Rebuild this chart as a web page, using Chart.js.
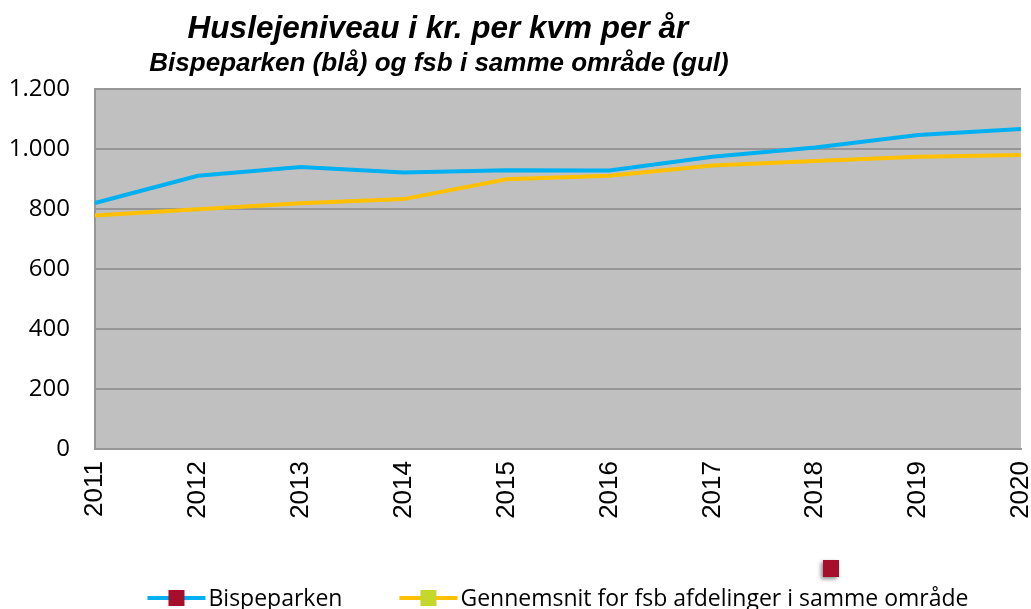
<!DOCTYPE html>
<html>
<head>
<meta charset="utf-8">
<script src="https://cdn.jsdelivr.net/npm/chart.js@4.4.0/dist/chart.umd.min.js"></script>
<style>
  html, body { margin: 0; padding: 0; background: #fff; }
</style>
</head>
<body>
<canvas id="chart" width="1031" height="609"></canvas>
<script>
// data
const years = ['2011', '2012', '2013', '2014', '2015', '2016', '2017', '2018', '2019', '2020'];
const bispeparken = [820, 911, 940, 922, 929, 928, 974, 1005, 1047, 1067];
const fsbOmraade = [778, 799, 819, 833, 899, 911, 945, 960, 974, 980];
const seriesNames = ['Bispeparken', 'Gennemsnit for fsb afdelinger i samme område'];
const lineColors = ['#00b0f0', '#ffc000'];
const markerColors = ['#a50f2c', '#c3d72c'];
const titleText = 'Huslejeniveau i kr. per kvm per år';
const subtitleText = 'Bispeparken (blå) og fsb i samme område (gul)';

// grey plot background
const plotBackground = {
  id: 'plotBackground',
  beforeDraw(chart) {
    const { ctx, chartArea } = chart;
    ctx.save();
    ctx.fillStyle = '#c0c0c0';
    ctx.fillRect(chartArea.left, chartArea.top, chartArea.right - chartArea.left, chartArea.bottom - chartArea.top);
    ctx.restore();
  }
};

// titles are a bit left of the plot centre in the original
const titles = {
  id: 'titles',
  afterDraw(chart) {
    const ctx = chart.ctx;
    ctx.save();
    ctx.fillStyle = '#000';
    ctx.textAlign = 'center';
    ctx.textBaseline = 'alphabetic';
    ctx.font = 'italic bold 31.5px "Liberation Sans", Arial, sans-serif';
    ctx.fillText(titleText, 438, 38);
    ctx.font = 'italic bold 26px "Liberation Sans", Arial, sans-serif';
    ctx.fillText(subtitleText, 439, 71);
    ctx.restore();
  }
};

// legend: line with a square marker, then the label
const lineLegend = {
  id: 'lineLegend',
  afterDraw(chart) {
    const ctx = chart.ctx;
    const area = chart.chartArea;
    const y = 598;
    const symW = 58;
    const gap = 57;
    ctx.save();
    ctx.font = '23px "Open Sans", sans-serif';
    const widths = chart.data.datasets.map(ds => symW + 3 + ctx.measureText(ds.label).width);
    const total = widths.reduce((a, b) => a + b, 0) + gap * (widths.length - 1);
    let x = (area.left + area.right) / 2 - total / 2;
    chart.data.datasets.forEach((ds, i) => {
      ctx.strokeStyle = ds.borderColor;
      ctx.lineWidth = 4;
      ctx.beginPath();
      ctx.moveTo(x, y);
      ctx.lineTo(x + symW, y);
      ctx.stroke();
      ctx.fillStyle = markerColors[i];
      ctx.fillRect(x + symW / 2 - 8, y - 8, 16, 16);
      ctx.fillStyle = '#000';
      ctx.textAlign = 'left';
      ctx.textBaseline = 'middle';
      ctx.fillText(ds.label, x + symW + 3, y + 1);
      x += widths[i] + gap;
    });
    // stray marker floating above the second entry
    ctx.shadowColor = 'rgba(0,0,0,0.45)';
    ctx.shadowBlur = 4;
    ctx.shadowOffsetX = -2;
    ctx.shadowOffsetY = 2;
    ctx.fillStyle = markerColors[0];
    ctx.fillRect(823, 560, 16, 17);
    ctx.restore();
  }
};

const ctx = document.getElementById('chart').getContext('2d');
new Chart(ctx, {
  type: 'line',
  data: {
    labels: years,
    datasets: [{
      label: seriesNames[0],
      data: bispeparken,
      borderColor: lineColors[0],
      borderWidth: 4,
      pointRadius: 0,
      tension: 0,
      fill: false
    }, {
      label: seriesNames[1],
      data: fsbOmraade,
      borderColor: lineColors[1],
      borderWidth: 4,
      pointRadius: 0,
      tension: 0,
      fill: false
    }]
  },
  options: {
    responsive: false,
    animation: false,
    layout: {
      padding: { top: 89, right: 10, bottom: 60, left: 0 }
    },
    plugins: {
      legend: { display: false },
      title: { display: false },
      tooltip: { enabled: false }
    },
    scales: {
      x: {
        offset: false,
        grid: { display: false, drawTicks: false },
        border: { display: true, color: '#969696', width: 2 },
        ticks: {
          color: '#000',
          minRotation: 90,
          maxRotation: 90,
          autoSkip: false,
          padding: 12,
          font: { family: '"Liberation Sans", Arial, sans-serif', size: 26 }
        },
        afterFit(scale) {
          scale.height = 100;
          scale.paddingLeft = 0;
          scale.paddingRight = 0;
        }
      },
      y: {
        min: 0,
        max: 1200,
        grid: { color: '#969696', lineWidth: 2, drawTicks: false },
        border: { display: true, color: '#969696', width: 2 },
        ticks: {
          stepSize: 200,
          color: '#000',
          padding: 25,
          font: { family: '"Open Sans", sans-serif', size: 24 },
          callback: v => String(v).replace(/\B(?=(\d{3})+(?!\d))/g, '.')
        },
        afterFit(scale) { scale.width = 95; }
      }
    }
  },
  plugins: [plotBackground, titles, lineLegend]
});
</script>
</body>
</html>
